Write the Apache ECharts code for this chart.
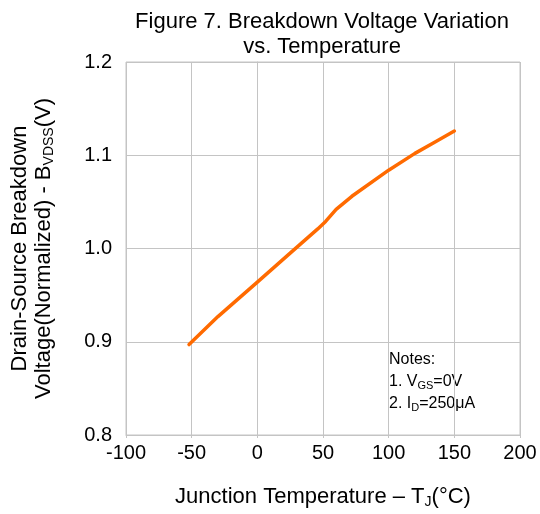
<!DOCTYPE html>
<html>
<head>
<meta charset="utf-8">
<script src="https://cdn.jsdelivr.net/npm/echarts@6/dist/echarts.min.js"></script>
<style>html,body{margin:0;padding:0;background:#fff}#c{width:540px;height:514px}</style>
</head>
<body>
<div id="c"></div>
<script>
const temperature = [-52, -30, 0, 25, 46, 52, 60, 72, 100, 120, 135, 150];
const voltage = [0.897, 0.927, 0.964, 0.995, 1.021, 1.029, 1.042, 1.056, 1.084, 1.102, 1.114, 1.126];
const xTicks = [-100, 200, 50];
const yTicks = [0.8, 1.2, 0.1];

const chart = echarts.init(document.getElementById('c'), null, {renderer: 'canvas'});
const font = '"Liberation Sans", Arial, sans-serif';
const grid = {left: 124, right: 20, top: 62, bottom: 77};
chart.setOption({
  animation: false,
  textStyle: {fontFamily: font},
  title: {
    text: 'Figure 7. Breakdown Voltage Variation\nvs. Temperature',
    left: 317, top: 4, textAlign: 'center',
    textStyle: {fontFamily: font, fontSize: 22, fontWeight: 'normal', color: '#000', lineHeight: 25}
  },
  grid: Object.assign({show: true, borderColor: '#c4c4c4', borderWidth: 1}, grid),
  xAxis: {
    type: 'value', min: xTicks[0], max: xTicks[1], interval: xTicks[2],
    name: '{n|Junction Temperature – T}{s|J}{n|(°C)}',
    nameLocation: 'middle', nameGap: 50,
    nameTextStyle: {rich: {
      n: {fontFamily: font, fontSize: 22, color: '#000'},
      s: {fontFamily: font, fontSize: 14, color: '#000', padding: [10, 0, 0, 0]}
    }},
    axisLine: {show: true, lineStyle: {color: '#c4c4c4'}},
    axisTick: {show: true, length: 3, lineStyle: {color: '#c4c4c4'}},
    axisLabel: {fontFamily: font, fontSize: 20, color: '#000', margin: 8},
    splitLine: {show: true, lineStyle: {color: '#c4c4c4', width: 1}}
  },
  yAxis: {
    type: 'value', min: yTicks[0], max: yTicks[1], interval: yTicks[2],
    name: '{n|Drain-Source Breakdown}\n{n|Voltage(Normalized) - B}{s|VDSS}{n|(V)}',
    nameLocation: 'middle', nameGap: 70, nameRotate: 90,
    nameTextStyle: {lineHeight: 24, rich: {
      n: {fontFamily: font, fontSize: 22, color: '#000', lineHeight: 24},
      s: {fontFamily: font, fontSize: 14, color: '#000', padding: [10, 0, 0, 0], lineHeight: 24}
    }},
    axisLine: {show: true, lineStyle: {color: '#c4c4c4'}},
    axisTick: {show: true, length: 3, lineStyle: {color: '#c4c4c4'}},
    axisLabel: {fontFamily: font, fontSize: 20, color: '#000', margin: 14,
      formatter: v => v.toFixed(1)},
    splitLine: {show: true, lineStyle: {color: '#c4c4c4', width: 1}}
  },
  graphic: [{
    type: 'text', left: 389, top: 352,
    style: {
      text: '{n|Notes:}\n{n|1. V}{s|GS}{n|=0V}\n{n|2. I}{s|D}{n|=250μA}',
      rich: {
        n: {fontFamily: font, fontSize: 16, fill: '#000', lineHeight: 22},
        s: {fontFamily: font, fontSize: 11, fill: '#000', lineHeight: 22, padding: [7, 0, 0, 0]}
      }
    }
  }],
  series: [{
    type: 'line',
    data: temperature.map((t, i) => [t, voltage[i]]),
    smooth: false,
    showSymbol: false,
    lineStyle: {color: '#ff6a00', width: 3.5, join: 'round', cap: 'round'},
    itemStyle: {color: '#ff6a00'}
  }]
});
</script>
</body>
</html>
